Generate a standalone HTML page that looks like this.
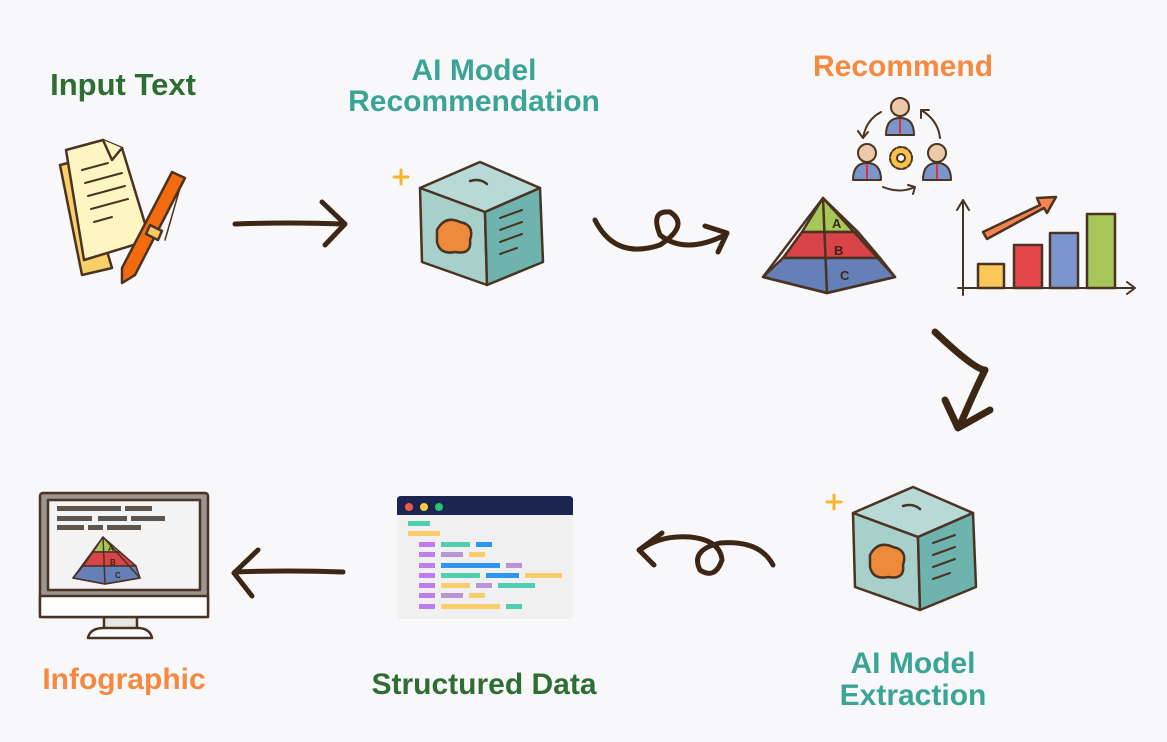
<!DOCTYPE html>
<html><head><meta charset="utf-8"><style>
html,body{margin:0;padding:0;background:#f8f8fa;}
svg{display:block}
text{font-family:"Liberation Sans",sans-serif;font-weight:bold;}
</style></head><body>
<svg width="1167" height="742" viewBox="0 0 1167 742" xmlns="http://www.w3.org/2000/svg">
<rect width="1167" height="742" fill="#f8f8fa"/>
<g stroke="#4a3322" stroke-width="2.5" stroke-linejoin="round" stroke-linecap="round">
<g stroke="none" text-anchor="middle">
<text x="123" y="95" font-size="31" fill="#2e6e33">Input Text</text>
<text x="474" y="80" font-size="30" fill="#3aa595">AI Model</text>
<text x="474" y="111" font-size="30" fill="#3aa595">Recommendation</text>
<text x="903" y="76" font-size="30" fill="#f5893f">Recommend</text>
<text x="913" y="673" font-size="30" fill="#3aa595">AI Model</text>
<text x="913" y="705" font-size="30" fill="#3aa595">Extraction</text>
<text x="484" y="694" font-size="30" fill="#2e6e33">Structured Data</text>
<text x="124" y="689" font-size="30" fill="#f5893f">Infographic</text>
</g>
<!-- document -->
<path d="M60 165 L80 160 L112 268 L82 275 Z" fill="#f9cf6a"/>
<path d="M66 150 L103 140 L122 148 L150 240 L84 260 Z" fill="#fdf6c3"/>
<path d="M103 140 L112 160 L122 148" fill="#fdf6c3"/>
<g stroke-width="2"><line x1="82" y1="170" x2="108" y2="163"/><line x1="85" y1="183" x2="122" y2="173"/><line x1="88" y1="196" x2="125" y2="186"/><line x1="91" y1="209" x2="128" y2="199"/><line x1="94" y1="222" x2="112" y2="217"/></g>
<path d="M172 172 L185 178 L135 275 L122 283 L122 268 Z" fill="#f26b0f"/>
<path d="M150 225 L162 231 L158 240 L146 234 Z" fill="#f8c85a"/>
<path d="M180 188 L165 240" stroke-width="1.5"/>
<!-- arrow 1 -->
<g stroke="#3d2714" stroke-width="5"><path d="M235 224 Q290 222 343 224"/><path d="M322 202 L345 224 L325 245" fill="none"/></g>
<!-- cube 1 -->
<g id="cube">
<path d="M420 188 L480 162 L540 188 L485 212 Z" fill="#b7dad6"/>
<path d="M420 188 L485 212 L487 285 L422 262 Z" fill="#a7d0cb"/>
<path d="M485 212 L540 188 L543 262 L487 285 Z" fill="#6fb3ae"/>
<path d="M470 181 Q480 178 487 184" fill="none"/>
<path d="M437 230 Q445 215 460 222 Q475 225 470 240 Q472 255 455 252 Q440 255 437 242 Z" fill="#ee8a3c"/>
<g stroke-width="2"><line x1="500" y1="218" x2="522" y2="210"/><line x1="500" y1="230" x2="522" y2="222"/><line x1="500" y1="242" x2="522" y2="234"/><line x1="500" y1="254" x2="517" y2="248"/></g>
<path d="M401 170 V184 M394 177 H408" stroke="#f4b52a" stroke-width="3"/>
</g>
<!-- loop arrow 1 -->
<g stroke="#3d2714" stroke-width="5" fill="none"><path d="M595 220 Q615 260 660 245 Q690 225 670 212 Q650 210 660 235 Q685 255 725 235"/><path d="M705 226 L727 233 L718 252"/></g>
<!-- people -->
<g stroke-width="2">
<circle cx="900" cy="107" r="9" fill="#ecc9a8"/><path d="M886 135 Q886 118 900 118 Q914 118 914 135 Z" fill="#7b96cf"/><line x1="900" y1="120" x2="900" y2="133" stroke="#d33"/>
<circle cx="867" cy="153" r="9" fill="#ecc9a8"/><path d="M853 180 Q853 163 867 163 Q881 163 881 180 Z" fill="#7b96cf"/><line x1="867" y1="165" x2="867" y2="178" stroke="#d33"/>
<circle cx="937" cy="153" r="9" fill="#ecc9a8"/><path d="M923 180 Q923 163 937 163 Q951 163 951 180 Z" fill="#7b96cf"/><line x1="937" y1="165" x2="937" y2="178" stroke="#d33"/>
<circle cx="901" cy="158" r="11" fill="#f7c24a" stroke-dasharray="4 2"/><circle cx="901" cy="158" r="4" fill="#fff"/>
<path d="M881 112 Q866 120 863 138 M858 131 L863 138 L868 132" fill="none"/>
<path d="M883 187 Q900 194 915 187 M908 185 L915 187 L913 194" fill="none"/>
<path d="M940 138 Q938 120 921 110 M921 118 L921 110 L929 110" fill="none"/>
</g>
<!-- pyramid -->
<path d="M823 198 L802 232 L858 232 Z" fill="#a6c65a"/>
<path d="M802 232 L783 258 L880 258 L858 232 Z" fill="#d84447"/>
<path d="M783 258 L763 277 L827 293 L895 277 L880 258 Z" fill="#6580b8"/>
<path d="M823 198 L763 277 L827 293 L895 277 Z M823 198 L827 293" fill="none"/>
<g stroke="none" font-size="13" fill="#3d2714"><text x="832" y="228">A</text><text x="834" y="255">B</text><text x="840" y="280">C</text></g>
<!-- chart -->
<g stroke-width="2" fill="none"><path d="M963 295 V200 M957 210 L963 200 L969 210"/><path d="M958 288 H1135 M1127 282 L1135 288 L1127 294"/></g>
<rect x="978" y="264" width="26" height="24" fill="#f9c75a"/>
<rect x="1014" y="245" width="28" height="43" fill="#e5474b"/>
<rect x="1050" y="233" width="28" height="55" fill="#7b96cf"/>
<rect x="1087" y="214" width="28" height="74" fill="#a6c65a"/>
<path d="M983 232 L1040 205 L1037 198 L1056 197 L1047 213 L1044 208 L987 239 Z" fill="#f5834f"/>
<!-- down arrow -->
<g stroke="#3d2714" stroke-width="7" fill="none"><path d="M935 332 Q975 370 985 370 Q975 390 960 425"/><path d="M945 400 L958 428 L990 410"/></g>
<!-- cube 2 -->
<use href="#cube" transform="translate(433 325)"/>
<!-- loop arrow 2 -->
<g stroke="#3d2714" stroke-width="5" fill="none"><path d="M773 565 Q760 540 720 543 Q690 550 700 570 Q715 580 722 560 Q720 540 690 537 Q660 535 640 550"/><path d="M662 533 L639 550 L654 565"/></g>
<!-- code window -->
<g stroke="none">
<rect x="397" y="496" width="176" height="123" rx="4" fill="#f0f0f1"/>
<path d="M401 496 H569 Q573 496 573 500 V515 H397 V500 Q397 496 401 496 Z" fill="#1b2550"/>
<circle cx="409" cy="507" r="4" fill="#f2574b"/><circle cx="424" cy="507" r="4" fill="#f6cc3f"/><circle cx="439" cy="507" r="4" fill="#27c26c"/>
<rect x="408" y="521" width="22" height="5" fill="#4ecfb0"/>
<rect x="408" y="531" width="32" height="5" fill="#f9cd6a"/>
<rect x="419" y="542" width="16" height="5" fill="#be7cee"/><rect x="441" y="542" width="29" height="5" fill="#4ecfb0"/><rect x="476" y="542" width="16" height="5" fill="#2d96f0"/>
<rect x="419" y="552" width="16" height="5" fill="#be7cee"/><rect x="441" y="552" width="22" height="5" fill="#bb93d8"/><rect x="469" y="552" width="16" height="5" fill="#f9cd6a"/>
<rect x="419" y="563" width="16" height="5" fill="#be7cee"/><rect x="441" y="563" width="59" height="5" fill="#2d96f0"/><rect x="506" y="563" width="16" height="5" fill="#bb93d8"/>
<rect x="419" y="573" width="16" height="5" fill="#be7cee"/><rect x="441" y="573" width="39" height="5" fill="#4ecfb0"/><rect x="486" y="573" width="33" height="5" fill="#2d96f0"/><rect x="525" y="573" width="37" height="5" fill="#f9cd6a"/>
<rect x="419" y="583" width="16" height="5" fill="#be7cee"/><rect x="441" y="583" width="29" height="5" fill="#f9cd6a"/><rect x="476" y="583" width="16" height="5" fill="#bb93d8"/><rect x="498" y="583" width="37" height="5" fill="#4ecfb0"/>
<rect x="419" y="593" width="16" height="5" fill="#be7cee"/><rect x="441" y="593" width="22" height="5" fill="#bb93d8"/><rect x="469" y="593" width="16" height="5" fill="#f9cd6a"/>
<rect x="419" y="604" width="16" height="5" fill="#be7cee"/><rect x="441" y="604" width="59" height="5" fill="#f9cd6a"/><rect x="506" y="604" width="16" height="5" fill="#4ecfb0"/>
</g>
<!-- left arrow -->
<g stroke="#3d2714" stroke-width="5" fill="none"><path d="M343 572 Q290 570 235 572"/><path d="M258 550 L234 573 L252 596"/></g>
<!-- monitor -->
<path d="M104 610 L137 610 L137 630 L104 630 Z" fill="#e7e7e2"/>
<path d="M88 638 Q90 628 104 628 H137 Q150 628 152 638 Z" fill="#fff"/>
<rect x="40" y="493" width="168" height="124" rx="3" fill="#9a9591"/>
<rect x="40" y="596" width="168" height="21" fill="#fff"/>
<rect x="48" y="500" width="152" height="90" fill="#f3f3f3"/>
<g stroke="none" fill="#5e554e">
<rect x="57" y="506" width="52" height="5"/><rect x="107" y="506" width="14" height="5"/><rect x="125" y="506" width="27" height="5"/>
<rect x="57" y="516" width="35" height="5"/><rect x="98" y="516" width="29" height="5"/><rect x="131" y="516" width="34" height="5"/>
<rect x="57" y="525" width="27" height="5"/><rect x="88" y="525" width="15" height="5"/><rect x="107" y="525" width="34" height="5"/>
</g>
<g stroke-width="1.5">
<path d="M103 537 L93 552 L120 552 Z" fill="#a6c65a"/>
<path d="M93 552 L83 566 L136 566 L120 552 Z" fill="#d84447"/>
<path d="M83 566 L73 578 L105 584 L140 578 L136 566 Z" fill="#6580b8"/>
<path d="M103 537 L73 578 L105 584 L140 578 Z M103 537 L105 584" fill="none"/>
</g>
<g stroke="none" font-size="8" fill="#3d2714"><text x="108" y="551">A</text><text x="110" y="565">B</text><text x="115" y="578">C</text></g>
</g>
</svg>
</body></html>
